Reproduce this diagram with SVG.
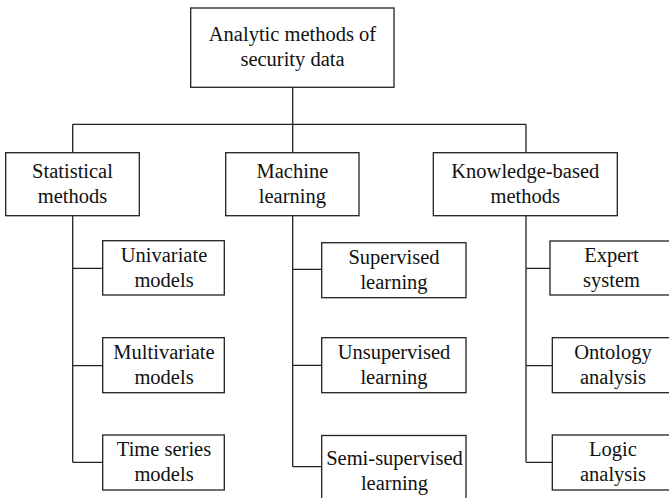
<svg xmlns="http://www.w3.org/2000/svg" width="669" height="498" viewBox="0 0 669 498">
<style>
rect{fill:#fff;stroke:#222;stroke-width:1.3}
text{font-family:"Liberation Serif","Times New Roman",serif;font-size:20.5px;fill:#111;text-anchor:middle}
#connectors path{fill:none;stroke:#222;stroke-width:1.3}
</style>
<rect x="0" y="0" width="669" height="498" style="stroke:none"/>
<g id="connectors">
<path d="M292.7,87.3V124.3M72.7,124.3H526M72.7,124.3V152.7M292.7,124.3V152.7M526,124.3V152.7"/>
<path d="M72.7,215.7V462.3M72.7,268.3H102.7M72.7,365.7H102.7M72.7,462.3H102.7"/>
<path d="M292.7,215.7V466.7M292.7,269.3H321.7M292.7,365.3H321.7M292.7,466.7H321.7"/>
<path d="M526,215.7V462.3M526,268.3H550M526,365.7H552.3M526,462.3H552.3"/>
</g>
<g id="root"><rect x="190.7" y="8" width="203.3" height="79.3"/><text x="292.5" y="40.5">Analytic methods of</text><text x="292.5" y="66">security data</text></g>
<g id="statistical"><rect x="5.7" y="152.7" width="133.6" height="63"/><text x="72.5" y="177.7">Statistical</text><text x="72.5" y="202.7">methods</text></g>
<g id="machine"><rect x="225.7" y="152.7" width="133.3" height="63"/><text x="292.4" y="177.7">Machine</text><text x="292.4" y="202.7">learning</text></g>
<g id="knowledge"><rect x="433.3" y="152.7" width="184" height="63"/><text x="525.3" y="177.7">Knowledge-based</text><text x="525.3" y="202.7">methods</text></g>
<g id="univariate"><rect x="102.7" y="240.7" width="121.6" height="54.3"/><text x="164" y="261.7">Univariate</text><text x="164" y="286.7">models</text></g>
<g id="multivariate"><rect x="102.7" y="337.7" width="121.6" height="55"/><text x="164" y="358.7">Multivariate</text><text x="164" y="383.7">models</text></g>
<g id="timeseries"><rect x="102.7" y="435" width="121.6" height="55"/><text x="164" y="456">Time series</text><text x="164" y="481">models</text></g>
<g id="supervised"><rect x="321.7" y="242.7" width="144.3" height="55"/><text x="394" y="263.7">Supervised</text><text x="394" y="288.7">learning</text></g>
<g id="unsupervised"><rect x="321.7" y="337.7" width="144.3" height="55"/><text x="394" y="358.7">Unsupervised</text><text x="394" y="383.7">learning</text></g>
<g id="semisupervised"><rect x="321.7" y="435.5" width="144.3" height="70"/><text x="394.5" y="464.5">Semi-supervised</text><text x="394.5" y="489.5">learning</text></g>
<g id="expert"><rect x="550" y="241" width="124" height="54"/><text x="611.5" y="262">Expert</text><text x="611.5" y="287">system</text></g>
<g id="ontology"><rect x="552.3" y="337.7" width="122" height="55"/><text x="613" y="358.7">Ontology</text><text x="613" y="383.7">analysis</text></g>
<g id="logic"><rect x="552.3" y="435" width="122" height="55"/><text x="613" y="456">Logic</text><text x="613" y="481">analysis</text></g>
</svg>
